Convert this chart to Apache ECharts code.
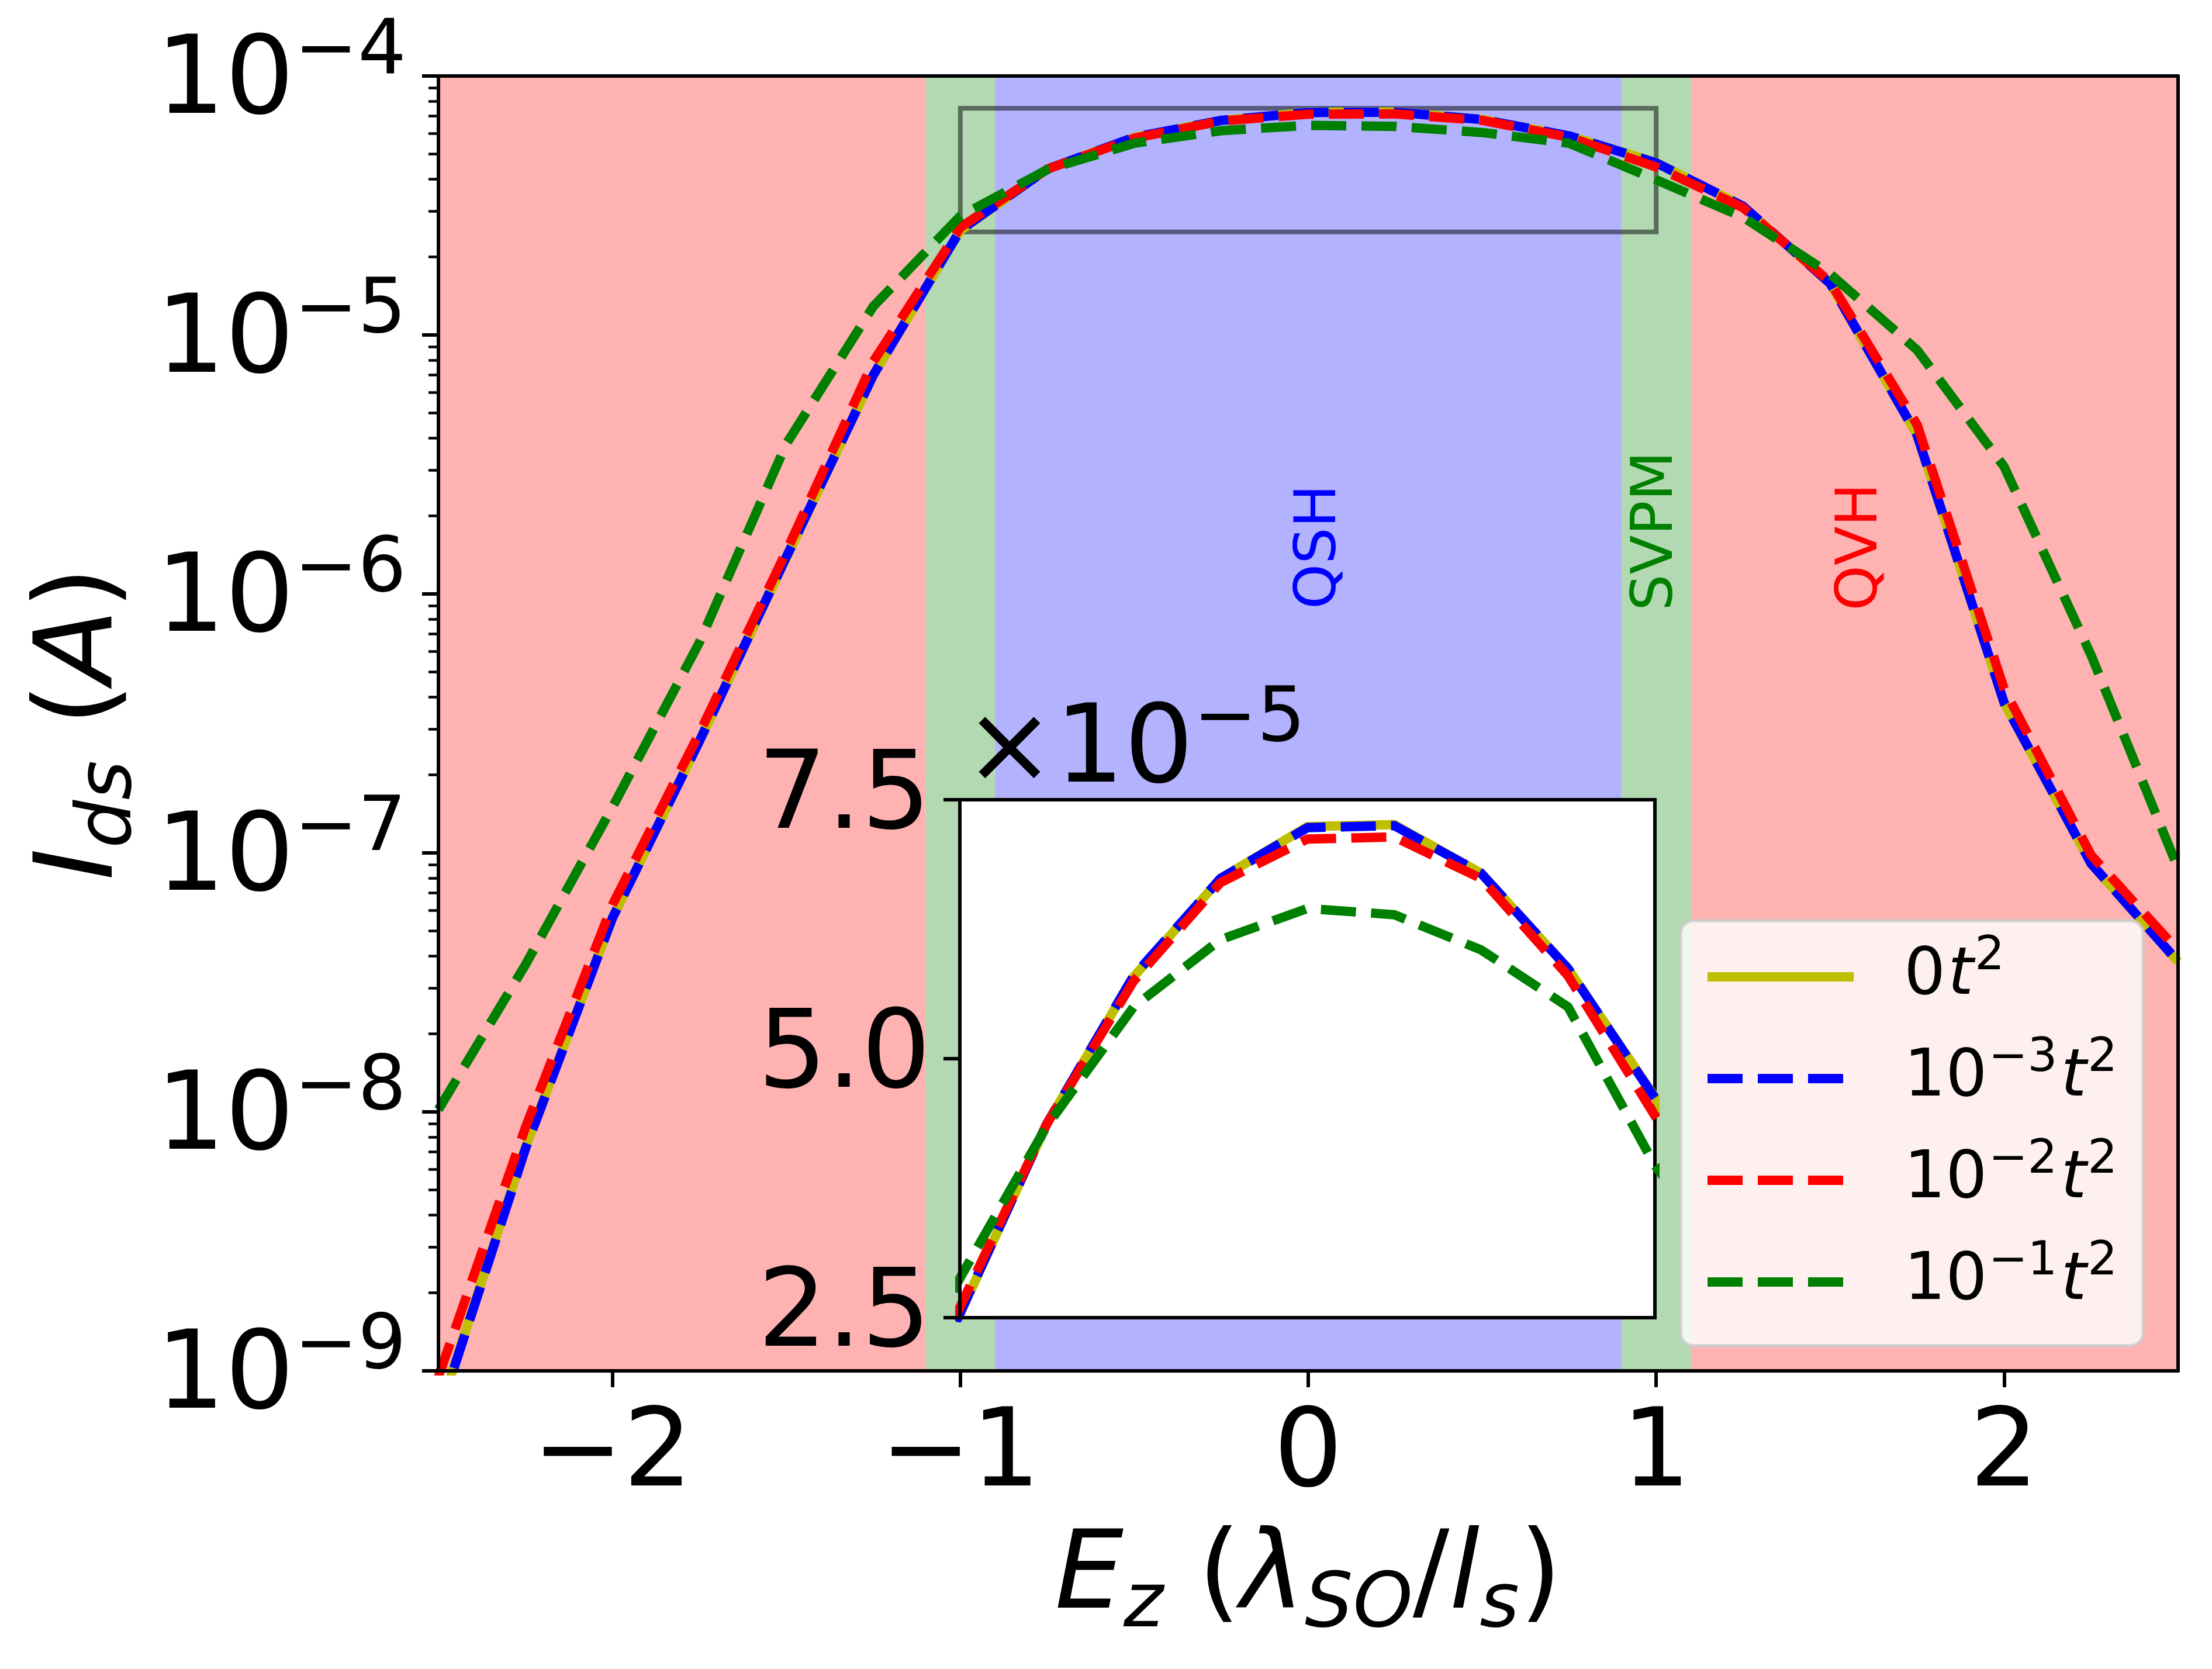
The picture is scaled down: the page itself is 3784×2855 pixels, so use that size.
<!DOCTYPE html>
<html>
<head>
<meta charset="utf-8">
<script src="https://cdn.jsdelivr.net/npm/echarts@6/dist/echarts.min.js"></script>
<style>
  html, body { margin: 0; padding: 0; background: #fff; }
  #main { width: 3784px; height: 2855px; }
</style>
</head>
<body>
<div id="main"></div>
<script>
// field values, E_z in units of lambda_SO / l_s
var ez = [-2.5, -2.25, -2, -1.75, -1.5, -1.25, -1, -0.75, -0.5, -0.25, 0,
          0.25, 0.5, 0.75, 1, 1.25, 1.5, 1.75, 2, 2.25, 2.5];

// I_ds (A) for each disorder strength
var ids0 = [6.8e-10, 7.3e-9, 5.6e-8, 2.7e-7, 1.38e-6, 7.0e-6, 2.53e-5, 4.37e-5, 5.79e-5, 6.74e-5, 7.24e-5,
            7.26e-5, 6.79e-5, 5.87e-5, 4.63e-5, 3.14e-5, 1.58e-5, 4.1e-6, 3.8e-7, 9.1e-8, 3.8e-8];
var ids3 = [6.7e-10, 7.2e-9, 5.6e-8, 2.7e-7, 1.39e-6, 7.0e-6, 2.54e-5, 4.37e-5, 5.80e-5, 6.74e-5, 7.23e-5,
            7.25e-5, 6.79e-5, 5.87e-5, 4.62e-5, 3.14e-5, 1.58e-5, 4.1e-6, 3.8e-7, 9.1e-8, 3.8e-8];
var ids2 = [9.5e-10, 8.7e-9, 6.3e-8, 2.9e-7, 1.46e-6, 7.9e-6, 2.6e-5, 4.37e-5, 5.75e-5, 6.70e-5, 7.12e-5,
            7.14e-5, 6.74e-5, 5.80e-5, 4.45e-5, 3.1e-5, 1.6e-5, 4.5e-6, 4.3e-7, 9.8e-8, 4.2e-8];
var ids1 = [1.02e-8, 3.7e-8, 1.5e-7, 6.5e-7, 3.8e-6, 1.29e-5, 2.88e-5, 4.35e-5, 5.50e-5, 6.15e-5, 6.45e-5,
            6.39e-5, 6.05e-5, 5.50e-5, 3.97e-5, 2.85e-5, 1.72e-5, 8.75e-6, 3.1e-6, 5.8e-7, 8.7e-8];

var seriesNames = ['0t2', '1e-3t2', '1e-2t2', '1e-1t2'];
var seriesData = [ids0, ids3, ids2, ids1];

// phase regions along E_z
var phaseEdges = [-2.5, -1.1, -0.9, 0.9, 1.1, 2.5];
var phaseKinds = ['QVH', 'SVPM', 'QSH', 'SVPM', 'QVH'];

// ticks
var xTicks = [-2, -1, 0, 1, 2];
var decadeTicks = [1e-9, 1e-8, 1e-7, 1e-6, 1e-5, 1e-4];
var minorMultipliers = [2, 3, 4, 5, 6, 7, 8, 9];
var insetX = [-1, 1];
var insetY = [2.5e-5, 7.5e-5];
var insetTicks = [2.5e-5, 5.0e-5, 7.5e-5];

// ---- styles and layout ----
var FONT = 'DejaVu Sans';
var colors = ['#bfbf00', '#0000ff', '#ff0000', '#008000'];
var lineTypes = ['solid', [60, 26], [60, 26], [60, 26]];
var phaseFill = {
    QVH: 'rgba(255,0,0,0.3)',
    SVPM: 'rgba(0,128,0,0.3)',
    QSH: 'rgba(0,0,255,0.3)'
};
var annotations = [
    { text: 'QSH', x: 0.035, y: 1.52e-6, color: '#0000ff' },
    { text: 'SVPM', x: 1.003, y: 1.75e-6, color: '#008000' },
    { text: 'QVH', x: 1.59, y: 1.52e-6, color: '#ff0000' }
];
var legendText = {
    '0t2': '{n|0}{i|t}{s|2}',
    '1e-3t2': '{n|10}{s|\u22123}{i|t}{s|2}',
    '1e-2t2': '{n|10}{s|\u22122}{i|t}{s|2}',
    '1e-1t2': '{n|10}{s|\u22121}{i|t}{s|2}'
};

var minorTicks = [];
for (var d = 0; d < decadeTicks.length - 1; d++) {
    for (var m = 0; m < minorMultipliers.length; m++) {
        minorTicks.push(decadeTicks[d] * minorMultipliers[m]);
    }
}

function pairs(ys) {
    return ez.map(function (x, i) { return [x, ys[i]]; });
}

function minus(s) {
    return String(s).replace('-', '\u2212');
}

var chart = echarts.init(document.getElementById('main'));

var bands = [];
for (var b = 0; b < phaseKinds.length; b++) {
    bands.push([
        { xAxis: phaseEdges[b], itemStyle: { color: phaseFill[phaseKinds[b]] } },
        { xAxis: phaseEdges[b + 1] }
    ]);
}

var series = [];
series.push({
    type: 'line', name: 'bands', data: [], xAxisIndex: 0, yAxisIndex: 0, z: 1, silent: true,
    markArea: { silent: true, data: bands }
});
series.push({
    type: 'line', name: 'zoomBox', data: [], xAxisIndex: 0, yAxisIndex: 0, z: 4, silent: true,
    markArea: {
        silent: true,
        itemStyle: { color: 'rgba(0,0,0,0)', borderColor: 'rgba(0,0,0,0.5)', borderWidth: 8 },
        data: [[{ xAxis: insetX[0], yAxis: insetY[0] }, { xAxis: insetX[1], yAxis: insetY[1] }]]
    }
});
seriesNames.forEach(function (name, k) {
    series.push({
        type: 'line', name: name, data: pairs(seriesData[k]),
        xAxisIndex: 0, yAxisIndex: 0, z: 2, symbol: 'none', clip: true, silent: true,
        lineStyle: { color: colors[k], width: 16, type: lineTypes[k], cap: 'butt', join: 'round' },
        itemStyle: { color: colors[k] }
    });
});
series.push({
    type: 'scatter', name: 'phases', xAxisIndex: 0, yAxisIndex: 0, z: 3, silent: true,
    symbolSize: 0,
    itemStyle: { opacity: 1 },
    data: annotations.map(function (a) {
        return {
            value: [a.x, a.y], name: a.text,
            itemStyle: { color: a.color },
            label: { color: a.color, textBorderColor: 'transparent' }
        };
    }),
    label: {
        show: true, formatter: '{b}', rotate: 90, position: 'inside', opacity: 1,
        fontSize: 98, fontFamily: FONT, textBorderWidth: 0
    }
});
seriesNames.forEach(function (name, k) {
    series.push({
        type: 'line', name: name, data: pairs(seriesData[k]),
        xAxisIndex: 2, yAxisIndex: 3, z: 6, symbol: 'none', clip: true, silent: true,
        lineStyle: { color: colors[k], width: 16, type: lineTypes[k], cap: 'butt', join: 'round' },
        itemStyle: { color: colors[k] }
    });
});

var nameRich = {
    i: { fontFamily: FONT, fontSize: 186, fontStyle: 'italic', color: '#000' },
    n: { fontFamily: FONT, fontSize: 186, color: '#000' },
    sub: { fontFamily: FONT, fontSize: 130, fontStyle: 'italic', color: '#000', padding: [92, 0, 0, 0] }
};
var spine = { show: true, onZero: false, lineStyle: { color: '#000', width: 6 } };

var option = {
    animation: false,
    backgroundColor: '#fff',
    textStyle: { fontFamily: FONT },
    grid: [
        { left: 750, top: 130, width: 2976, height: 2215, outerBoundsMode: 'none' },
        { left: 1642, top: 1368, width: 1189, height: 886, show: true, z: 5,
          backgroundColor: '#fff', borderColor: '#000', borderWidth: 6, outerBoundsMode: 'none' }
    ],
    legend: {
        data: seriesNames, orient: 'vertical', left: 2875, top: 1575,
        padding: [22, 42, 39, 38], itemWidth: 250, itemHeight: 40, itemGap: 30,
        backgroundColor: 'rgba(255,255,255,0.8)', borderColor: 'rgba(204,204,204,0.9)',
        borderWidth: 5, borderRadius: 22, selectedMode: false, z: 20,
        itemStyle: { opacity: 0 },
        lineStyle: { width: 16, cap: 'butt' },
        formatter: function (name) { return legendText[name]; },
        textStyle: {
            fontFamily: FONT, fontSize: 112, lineHeight: 140, color: '#000', padding: [0, 0, 0, 81],
            rich: {
                n: { fontFamily: FONT, fontSize: 112, color: '#000' },
                i: { fontFamily: FONT, fontSize: 112, fontStyle: 'italic', color: '#000', padding: [0, 0, 0, 4] },
                s: { fontFamily: FONT, fontSize: 80, color: '#000', padding: [0, 2, 68, 2] }
            }
        }
    },
    xAxis: [
        {
            type: 'value', gridIndex: 0, min: -2.5, max: 2.5, z: 10,
            axisLine: spine,
            axisTick: { show: true, length: 28, customValues: xTicks, lineStyle: { color: '#000', width: 6 } },
            axisLabel: {
                customValues: xTicks, margin: 55, fontSize: 186, fontFamily: FONT, color: '#000',
                formatter: function (v) { return minus(v); }
            },
            splitLine: { show: false },
            name: '{i|E}{sub|z}{n| (}{i|\u03bb}{sub|SO}{n|/}{i|l}{sub|s}{n|)}',
            nameLocation: 'middle', nameGap: 246, nameMoveOverlap: false,
            nameTextStyle: { fontFamily: FONT, fontSize: 186, color: '#000', rich: nameRich }
        },
        {
            type: 'value', gridIndex: 0, position: 'top', min: -2.5, max: 2.5, z: 10,
            axisLine: spine, axisTick: { show: false }, axisLabel: { show: false }, splitLine: { show: false }
        },
        {
            type: 'value', gridIndex: 1, min: insetX[0], max: insetX[1], z: 7,
            axisLine: spine, axisTick: { show: false }, axisLabel: { show: false }, splitLine: { show: false }
        }
    ],
    yAxis: [
        {
            type: 'log', logBase: 10, gridIndex: 0, min: 1e-9, max: 1e-4, z: 10,
            axisLine: spine,
            axisTick: { show: true, length: 28, customValues: decadeTicks, lineStyle: { color: '#000', width: 6 } },
            axisLabel: {
                customValues: decadeTicks, margin: 55, color: '#000',
                formatter: function (v) {
                    return '{b|10}{s|' + minus(Math.round(Math.log10(v))) + '}';
                },
                rich: {
                    b: { fontFamily: FONT, fontSize: 186, color: '#000', padding: [30, 0, 0, 0] },
                    s: { fontFamily: FONT, fontSize: 130, color: '#000', padding: [0, 0, 78, 0] }
                }
            },
            splitLine: { show: false },
            name: '{i|I}{sub|ds}{n| (}{i|A}{n|)}',
            nameLocation: 'middle', nameGap: 496, nameRotate: 90, nameMoveOverlap: false,
            nameTextStyle: { fontFamily: FONT, fontSize: 186, color: '#000', rich: nameRich }
        },
        {
            type: 'log', logBase: 10, gridIndex: 0, position: 'left', min: 1e-9, max: 1e-4, z: 10,
            axisLine: { show: false, onZero: false },
            axisTick: { show: true, length: 17, customValues: minorTicks, lineStyle: { color: '#000', width: 4.5 } },
            axisLabel: { show: false }, splitLine: { show: false }
        },
        {
            type: 'value', gridIndex: 0, position: 'right', min: 0, max: 1, z: 10,
            axisLine: spine, axisTick: { show: false }, axisLabel: { show: false }, splitLine: { show: false }
        },
        {
            type: 'value', gridIndex: 1, min: insetY[0], max: insetY[1], interval: 2.5e-5, z: 7,
            axisLine: spine,
            axisTick: { show: true, length: 28, customValues: insetTicks, lineStyle: { color: '#000', width: 6 } },
            axisLabel: {
                customValues: insetTicks, margin: 50, fontSize: 186, fontFamily: FONT, color: '#000',
                formatter: function (v) { return (v * 1e5).toFixed(1); }
            },
            splitLine: { show: false },
            name: '{x|\u00d7}{b|10}{s|\u22125}',
            nameLocation: 'end', nameGap: -42, nameMoveOverlap: false,
            nameTextStyle: {
                align: 'left', verticalAlign: 'bottom', padding: [0, 0, 0, 7],
                rich: {
                    x: { fontFamily: FONT, fontSize: 186, color: '#000' },
                    b: { fontFamily: FONT, fontSize: 186, color: '#000' },
                    s: { fontFamily: FONT, fontSize: 130, color: '#000', padding: [0, 0, 112, 0] }
                }
            }
        }
    ],
    series: series
};

chart.setOption(option);
</script>
</body>
</html>
